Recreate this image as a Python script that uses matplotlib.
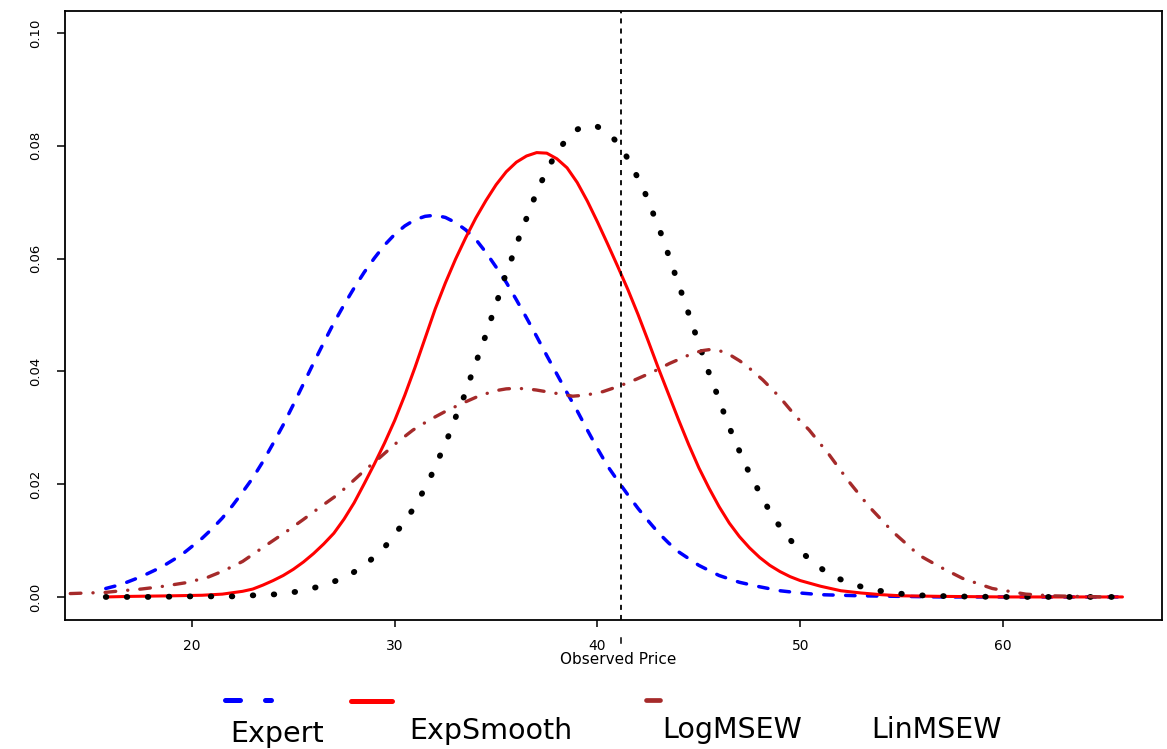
import matplotlib
matplotlib.use("Agg")
import matplotlib.pyplot as plt
from matplotlib.lines import Line2D
import matplotlib.transforms as mtransforms

# ---- density estimates of the observed price, one per forecasting scheme ----
expert_x = [15.75, 16.5, 17.5, 18.5, 19.5, 20.5, 21.0, 21.5, 22.0, 22.5,
            23.0, 23.5, 24.0, 24.5, 25.0, 25.5, 26.0, 26.5, 27.0, 27.5,
            28.0, 28.5, 29.0, 29.5, 30.0, 30.5, 31.0, 31.5, 32.0, 32.5,
            33.0, 33.5, 34.0, 34.5, 35.0, 35.5, 36.0, 36.5, 37.0, 37.5,
            38.0, 38.5, 39.0, 39.5, 40.0, 40.5, 41.0, 41.5, 42.0, 42.5,
            43.0, 43.5, 44.0, 45.0, 46.0, 47.0, 48.0, 49.0, 50.0, 51.0,
            52.0, 53.0, 55.0, 57.0, 65.89]
expert_y = [0.0015, 0.0022, 0.0036, 0.0053, 0.0075, 0.0104, 0.0121, 0.0140, 0.0162, 0.0186,
            0.0211, 0.0240, 0.0272, 0.0305, 0.0341, 0.0378, 0.0415, 0.0451, 0.0486, 0.0518,
            0.0548, 0.0576, 0.0601, 0.0624, 0.0643, 0.0658, 0.0669, 0.0675, 0.0677, 0.0673,
            0.0664, 0.0651, 0.0634, 0.0611, 0.0585, 0.0558, 0.0527, 0.0495, 0.0462, 0.0428,
            0.0395, 0.0362, 0.0330, 0.0296, 0.0263, 0.0232, 0.0206, 0.0181, 0.0157, 0.0135,
            0.0114, 0.0096, 0.0080, 0.0056, 0.0038, 0.0026, 0.0018, 0.0011, 0.0007, 0.0004,
            0.0003, 0.0002, 0.0001, 0.0, 0.0]

expsmooth_x = [15.75, 17.0, 19.0, 20.5, 21.5, 22.5, 23.0, 23.5, 24.0, 24.5,
               25.0, 25.5, 26.0, 26.5, 27.0, 27.5, 28.0, 28.5, 29.0, 29.5,
               30.0, 30.5, 31.0, 31.5, 32.0, 32.5, 33.0, 33.5, 34.0, 34.5,
               35.0, 35.5, 36.0, 36.5, 37.0, 37.5, 38.0, 38.5, 39.0, 39.5,
               40.0, 40.5, 41.0, 41.5, 42.0, 42.5, 43.0, 43.5, 44.0, 44.5,
               45.0, 45.5, 46.0, 46.5, 47.0, 47.5, 48.0, 48.5, 49.0, 49.5,
               50.0, 51.0, 52.0, 53.0, 54.0, 55.0, 57.0, 60.0, 65.89]
expsmooth_y = [0.0, 0.0001, 0.0002, 0.0003, 0.0005, 0.0010, 0.0014, 0.0021, 0.0029, 0.0038,
               0.0049, 0.0062, 0.0077, 0.0094, 0.0113, 0.0138, 0.0167, 0.0201, 0.0236, 0.0273,
               0.0313, 0.0358, 0.0407, 0.0459, 0.0511, 0.0557, 0.0599, 0.0637, 0.0672, 0.0703,
               0.0731, 0.0754, 0.0771, 0.0782, 0.0788, 0.0787, 0.0777, 0.0761, 0.0735, 0.0702,
               0.0665, 0.0626, 0.0586, 0.0545, 0.0501, 0.0454, 0.0406, 0.0360, 0.0314, 0.0270,
               0.0229, 0.0193, 0.0160, 0.0131, 0.0107, 0.0087, 0.0070, 0.0056, 0.0045, 0.0036,
               0.0029, 0.0019, 0.0011, 0.0007, 0.0004, 0.0002, 0.0001, 0.0, 0.0]

logmsew_x = [15.75, 18.0, 20.0, 22.0, 23.1, 24.33, 25.49, 26.63, 27.70, 28.52,
             29.34, 29.92, 30.49, 30.99, 31.40, 31.81, 32.14, 32.51, 32.84, 33.14,
             33.45, 33.73, 34.02, 34.30, 34.58, 34.84, 35.12, 35.37, 35.67, 35.95,
             36.24, 36.55, 36.86, 37.19, 37.59, 38.01, 38.58, 39.0, 39.44, 40.0,
             40.51, 41.12, 41.58, 41.99, 42.35, 42.68, 42.99, 43.29, 43.56, 43.84,
             44.12, 44.40, 44.66, 44.94, 45.22, 45.50, 45.80, 46.09, 46.40, 46.71,
             47.06, 47.42, 47.82, 48.23, 48.67, 49.20, 49.79, 50.48, 51.31, 52.28,
             53.40, 54.58, 55.78, 57.5, 60.0, 65.89]
logmsew_y = [0.0, 0.0, 0.0001, 0.0001, 0.0003, 0.0005, 0.0011, 0.0022, 0.0037, 0.0057,
             0.0081, 0.0107, 0.0134, 0.0160, 0.0187, 0.0216, 0.0243, 0.0273, 0.0302, 0.0332,
             0.0358, 0.0388, 0.0417, 0.0445, 0.0473, 0.0503, 0.0532, 0.0561, 0.0590, 0.0619,
             0.0648, 0.0676, 0.0705, 0.0733, 0.0762, 0.0790, 0.0816, 0.0829, 0.0836, 0.0834,
             0.0824, 0.0800, 0.0772, 0.0743, 0.0716, 0.0686, 0.0658, 0.0629, 0.0600, 0.0571,
             0.0542, 0.0513, 0.0484, 0.0456, 0.0426, 0.0397, 0.0369, 0.0340, 0.0311, 0.0282,
             0.0254, 0.0225, 0.0197, 0.0169, 0.0141, 0.0115, 0.0089, 0.0066, 0.0043, 0.0026,
             0.0014, 0.0007, 0.0003, 0.0001, 0.0, 0.0]

linmsew_x = [14.0, 15.71, 16.54, 17.5, 18.42, 19.66, 20.72, 21.54, 22.50, 23.51,
             24.66, 25.48, 26.31, 27.13, 27.62, 28.44, 29.26, 30.08, 30.90, 31.72,
             32.55, 33.37, 34.19, 35.01, 35.5, 36.0, 36.5, 36.98, 37.97, 38.78,
             39.44, 40.26, 41.08, 41.91, 42.73, 43.55, 44.37, 44.8, 45.2, 45.6,
             46.0, 46.5, 47.0, 47.32, 48.15, 48.97, 49.79, 50.44, 51.43, 52.41,
             53.40, 54.55, 55.86, 56.85, 58.0, 59.47, 61.12, 62.41, 64.9]
linmsew_y = [0.0006, 0.0008, 0.0011, 0.0014, 0.0018, 0.0025, 0.0034, 0.0046, 0.0063, 0.0088,
             0.0116, 0.0137, 0.0159, 0.0180, 0.0195, 0.0222, 0.0247, 0.0273, 0.0296, 0.0314,
             0.0330, 0.0344, 0.0357, 0.0366, 0.0369, 0.0370, 0.0369, 0.0367, 0.0361, 0.0356,
             0.0358, 0.0364, 0.0374, 0.0386, 0.0399, 0.0414, 0.0427, 0.0433, 0.0437, 0.0439,
             0.0437, 0.0430, 0.0419, 0.0411, 0.0385, 0.0355, 0.0320, 0.0296, 0.0252, 0.0204,
             0.0160, 0.0116, 0.0074, 0.0054, 0.0033, 0.0015, 0.0005, 0.0002, 0.0]

observed_price = 41.15

x_ticks = [20, 30, 40, 50, 60]
y_ticks = [0.00, 0.02, 0.04, 0.06, 0.08, 0.10]
y_tick_labels = ["0.00", "0.02", "0.04", "0.06", "0.08", "0.10"]
legend_labels = ["Expert", "ExpSmooth", "LogMSEW", "LinMSEW"]

BLUE = "#0000FF"
RED = "#FF0000"
BLACK = "#000000"
BROWN = "#A52A2A"

W, H = 1167, 749
plt.rcParams["font.family"] = ["DejaVu Sans"]
fig = plt.figure(figsize=(W / 100, H / 100), dpi=100)
ax = fig.add_axes([65 / W, 1 - 619.5 / H, (1162 - 65) / W, (619.5 - 10.5) / H])

ax.plot(expert_x, expert_y, color=BLUE, lw=2.5, dashes=(2.7, 3.6),
        dash_capstyle="round", dash_joinstyle="round")
ax.plot(expsmooth_x, expsmooth_y, color=RED, lw=2.2,
        solid_capstyle="round", solid_joinstyle="round")
ax.plot(logmsew_x, logmsew_y, color=BLACK, lw=4.2, dashes=(0.1, 3.5),
        dash_capstyle="round")
ax.plot(linmsew_x, linmsew_y, color=BROWN, lw=2.4, dashes=(3.2, 3.6, 0.05, 3.6),
        dash_capstyle="round", dash_joinstyle="round")

# actual observed price
ax.axvline(observed_price, color=BLACK, lw=1.3, dashes=(2.8, 2.8))
mark = mtransforms.blended_transform_factory(ax.transData, ax.transAxes)
ax.plot([observed_price, observed_price], [-0.0304, -0.0386], color=BLACK,
        lw=1.1, transform=mark, clip_on=False)

ax.set_xlim(13.74, 67.84)
ax.set_ylim(-0.004, 0.104)

ax.set_xticks(x_ticks)
ax.set_xticklabels([str(v) for v in x_ticks], fontsize=10)
ax.set_yticks(y_ticks)
ax.set_yticklabels(y_tick_labels, rotation=90, va="center", fontsize=9.5)
ax.tick_params(axis="x", length=5, width=1.1, pad=9)
ax.tick_params(axis="y", length=5.5, width=1.1, pad=11)
for sp in ax.spines.values():
    sp.set_linewidth(1.3)

ax.set_xlabel("Observed Price", fontsize=11, va="baseline")
ax.xaxis.set_label_coords((618 - 65) / (1162 - 65), (619.5 - 664) / 609)


def fx(px):
    return px / W


def fy(py):
    return 1 - py / H


# legend row beneath the plot
fig.add_artist(Line2D([fx(224.5), fx(270.8)], [fy(699.7), fy(699.7)], color=BLUE,
                      lw=3.6, dashes=(3, 5), dash_capstyle="round"))
fig.add_artist(Line2D([fx(350.5), fx(392.5)], [fy(700.7), fy(700.7)], color=RED,
                      lw=3.6, solid_capstyle="round"))
fig.add_artist(Line2D([fx(645.5), fx(659.5)], [fy(700), fy(700)], color=BROWN,
                      lw=3.4, solid_capstyle="round"))

label_cx = [277, 491.3, 732, 936.7]
label_base = [741.7, 739.3, 737.7, 737.7]
for lab, cx, by in zip(legend_labels, label_cx, label_base):
    fig.text(fx(cx), fy(by), lab, ha="center", va="baseline", fontsize=20.5)

fig.savefig("out.png", dpi=100)
